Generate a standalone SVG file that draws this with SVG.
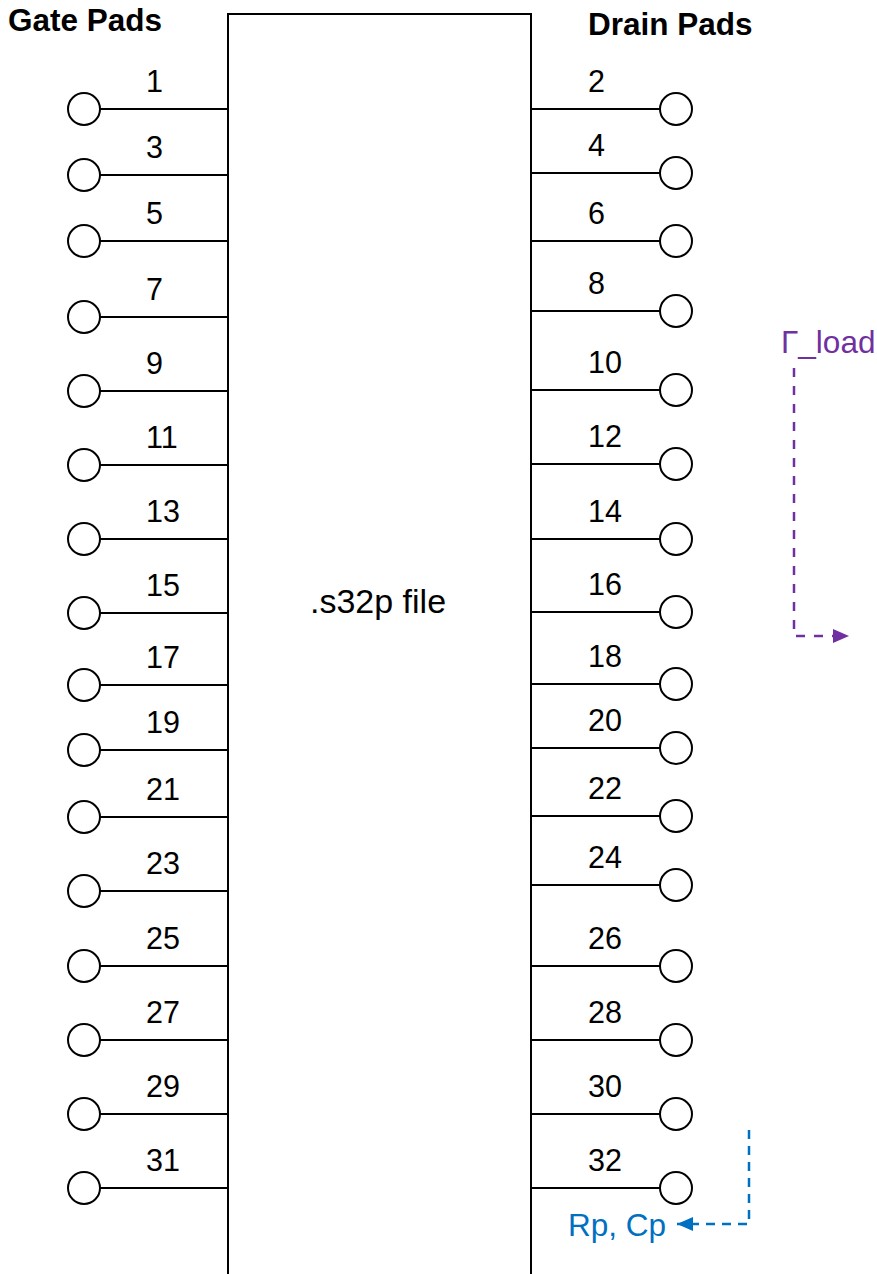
<svg xmlns="http://www.w3.org/2000/svg" width="877" height="1274" viewBox="0 0 877 1274">
<style>
.pad{fill:#fff;stroke:#000;stroke-width:2}
.wire{stroke:#000;stroke-width:2;fill:none}
.lbl{font-family:"Liberation Sans",Arial,sans-serif;font-size:30.5px;fill:#000}
.hd{font-family:"Liberation Sans",Arial,sans-serif;font-size:31.5px;font-weight:bold;fill:#000}
.ann{font-family:"Liberation Sans",Arial,sans-serif;font-size:31.5px}
</style>
<defs>
<marker id="arP" viewBox="0 0 16 14" refX="16" refY="7" markerWidth="16" markerHeight="14" orient="auto" markerUnits="userSpaceOnUse"><path d="M0,0L16,7L0,14z" fill="#7030A0"/></marker>
<marker id="arB" viewBox="0 0 16 14" refX="16" refY="7" markerWidth="16" markerHeight="14" orient="auto" markerUnits="userSpaceOnUse"><path d="M0,0L16,7L0,14z" fill="#0070C0"/></marker>
</defs>
<rect width="877" height="1274" fill="#fff"/>
<g id="chip">
<rect x="228" y="14" width="303" height="1280" fill="#fff" stroke="#000" stroke-width="2"/>
<text class="lbl" x="378" y="613" text-anchor="middle" style="font-size:34px">.s32p file</text>
</g>
<text class="hd" x="8" y="31">Gate Pads</text>
<text class="hd" x="588" y="35">Drain Pads</text>
<g id="gate-pads">
<g id="g1"><line class="wire" x1="100" y1="109" x2="228" y2="109"/><circle class="pad" cx="84" cy="109" r="16"/><text class="lbl" x="146" y="92">1</text></g>
<g id="g3"><line class="wire" x1="100" y1="175" x2="228" y2="175"/><circle class="pad" cx="84" cy="175" r="16"/><text class="lbl" x="146" y="158">3</text></g>
<g id="g5"><line class="wire" x1="100" y1="241" x2="228" y2="241"/><circle class="pad" cx="84" cy="241" r="16"/><text class="lbl" x="146" y="224">5</text></g>
<g id="g7"><line class="wire" x1="100" y1="317" x2="228" y2="317"/><circle class="pad" cx="84" cy="317" r="16"/><text class="lbl" x="146" y="300">7</text></g>
<g id="g9"><line class="wire" x1="100" y1="391" x2="228" y2="391"/><circle class="pad" cx="84" cy="391" r="16"/><text class="lbl" x="146" y="374">9</text></g>
<g id="g11"><line class="wire" x1="100" y1="465" x2="228" y2="465"/><circle class="pad" cx="84" cy="465" r="16"/><text class="lbl" x="146" y="448">11</text></g>
<g id="g13"><line class="wire" x1="100" y1="539" x2="228" y2="539"/><circle class="pad" cx="84" cy="539" r="16"/><text class="lbl" x="146" y="522">13</text></g>
<g id="g15"><line class="wire" x1="100" y1="613" x2="228" y2="613"/><circle class="pad" cx="84" cy="613" r="16"/><text class="lbl" x="146" y="596">15</text></g>
<g id="g17"><line class="wire" x1="100" y1="685" x2="228" y2="685"/><circle class="pad" cx="84" cy="685" r="16"/><text class="lbl" x="146" y="668">17</text></g>
<g id="g19"><line class="wire" x1="100" y1="750" x2="228" y2="750"/><circle class="pad" cx="84" cy="750" r="16"/><text class="lbl" x="146" y="733">19</text></g>
<g id="g21"><line class="wire" x1="100" y1="817" x2="228" y2="817"/><circle class="pad" cx="84" cy="817" r="16"/><text class="lbl" x="146" y="800">21</text></g>
<g id="g23"><line class="wire" x1="100" y1="891" x2="228" y2="891"/><circle class="pad" cx="84" cy="891" r="16"/><text class="lbl" x="146" y="874">23</text></g>
<g id="g25"><line class="wire" x1="100" y1="966" x2="228" y2="966"/><circle class="pad" cx="84" cy="966" r="16"/><text class="lbl" x="146" y="949">25</text></g>
<g id="g27"><line class="wire" x1="100" y1="1040" x2="228" y2="1040"/><circle class="pad" cx="84" cy="1040" r="16"/><text class="lbl" x="146" y="1023">27</text></g>
<g id="g29"><line class="wire" x1="100" y1="1114" x2="228" y2="1114"/><circle class="pad" cx="84" cy="1114" r="16"/><text class="lbl" x="146" y="1097">29</text></g>
<g id="g31"><line class="wire" x1="100" y1="1188" x2="228" y2="1188"/><circle class="pad" cx="84" cy="1188" r="16"/><text class="lbl" x="146" y="1171">31</text></g>
</g>
<g id="drain-pads">
<g id="d2"><line class="wire" x1="531" y1="109" x2="660" y2="109"/><circle class="pad" cx="676" cy="109" r="16"/><text class="lbl" x="588" y="92">2</text></g>
<g id="d4"><line class="wire" x1="531" y1="173" x2="660" y2="173"/><circle class="pad" cx="676" cy="173" r="16"/><text class="lbl" x="588" y="156">4</text></g>
<g id="d6"><line class="wire" x1="531" y1="241" x2="660" y2="241"/><circle class="pad" cx="676" cy="241" r="16"/><text class="lbl" x="588" y="224">6</text></g>
<g id="d8"><line class="wire" x1="531" y1="311" x2="660" y2="311"/><circle class="pad" cx="676" cy="311" r="16"/><text class="lbl" x="588" y="294">8</text></g>
<g id="d10"><line class="wire" x1="531" y1="390" x2="660" y2="390"/><circle class="pad" cx="676" cy="390" r="16"/><text class="lbl" x="588" y="373">10</text></g>
<g id="d12"><line class="wire" x1="531" y1="464" x2="660" y2="464"/><circle class="pad" cx="676" cy="464" r="16"/><text class="lbl" x="588" y="447">12</text></g>
<g id="d14"><line class="wire" x1="531" y1="539" x2="660" y2="539"/><circle class="pad" cx="676" cy="539" r="16"/><text class="lbl" x="588" y="522">14</text></g>
<g id="d16"><line class="wire" x1="531" y1="612" x2="660" y2="612"/><circle class="pad" cx="676" cy="612" r="16"/><text class="lbl" x="588" y="595">16</text></g>
<g id="d18"><line class="wire" x1="531" y1="684" x2="660" y2="684"/><circle class="pad" cx="676" cy="684" r="16"/><text class="lbl" x="588" y="667">18</text></g>
<g id="d20"><line class="wire" x1="531" y1="748" x2="660" y2="748"/><circle class="pad" cx="676" cy="748" r="16"/><text class="lbl" x="588" y="731">20</text></g>
<g id="d22"><line class="wire" x1="531" y1="816" x2="660" y2="816"/><circle class="pad" cx="676" cy="816" r="16"/><text class="lbl" x="588" y="799">22</text></g>
<g id="d24"><line class="wire" x1="531" y1="885" x2="660" y2="885"/><circle class="pad" cx="676" cy="885" r="16"/><text class="lbl" x="588" y="868">24</text></g>
<g id="d26"><line class="wire" x1="531" y1="966" x2="660" y2="966"/><circle class="pad" cx="676" cy="966" r="16"/><text class="lbl" x="588" y="949">26</text></g>
<g id="d28"><line class="wire" x1="531" y1="1040" x2="660" y2="1040"/><circle class="pad" cx="676" cy="1040" r="16"/><text class="lbl" x="588" y="1023">28</text></g>
<g id="d30"><line class="wire" x1="531" y1="1114" x2="660" y2="1114"/><circle class="pad" cx="676" cy="1114" r="16"/><text class="lbl" x="588" y="1097">30</text></g>
<g id="d32"><line class="wire" x1="531" y1="1188" x2="660" y2="1188"/><circle class="pad" cx="676" cy="1188" r="16"/><text class="lbl" x="588" y="1171">32</text></g>
</g>
<g id="annotations">
<text class="ann" x="781" y="353" fill="#7030A0">Γ_load</text>
<text class="ann" x="568" y="1236" fill="#0070C0">Rp, Cp</text>
</g>
<g id="connectors">
<path d="M794,368V636H849" fill="none" stroke="#7030A0" stroke-width="2.5" stroke-dasharray="9 9" marker-end="url(#arP)"/>
<path d="M749,1130V1224H677" fill="none" stroke="#0070C0" stroke-width="2.5" stroke-dasharray="9 7" marker-end="url(#arB)"/>
</g>
</svg>
